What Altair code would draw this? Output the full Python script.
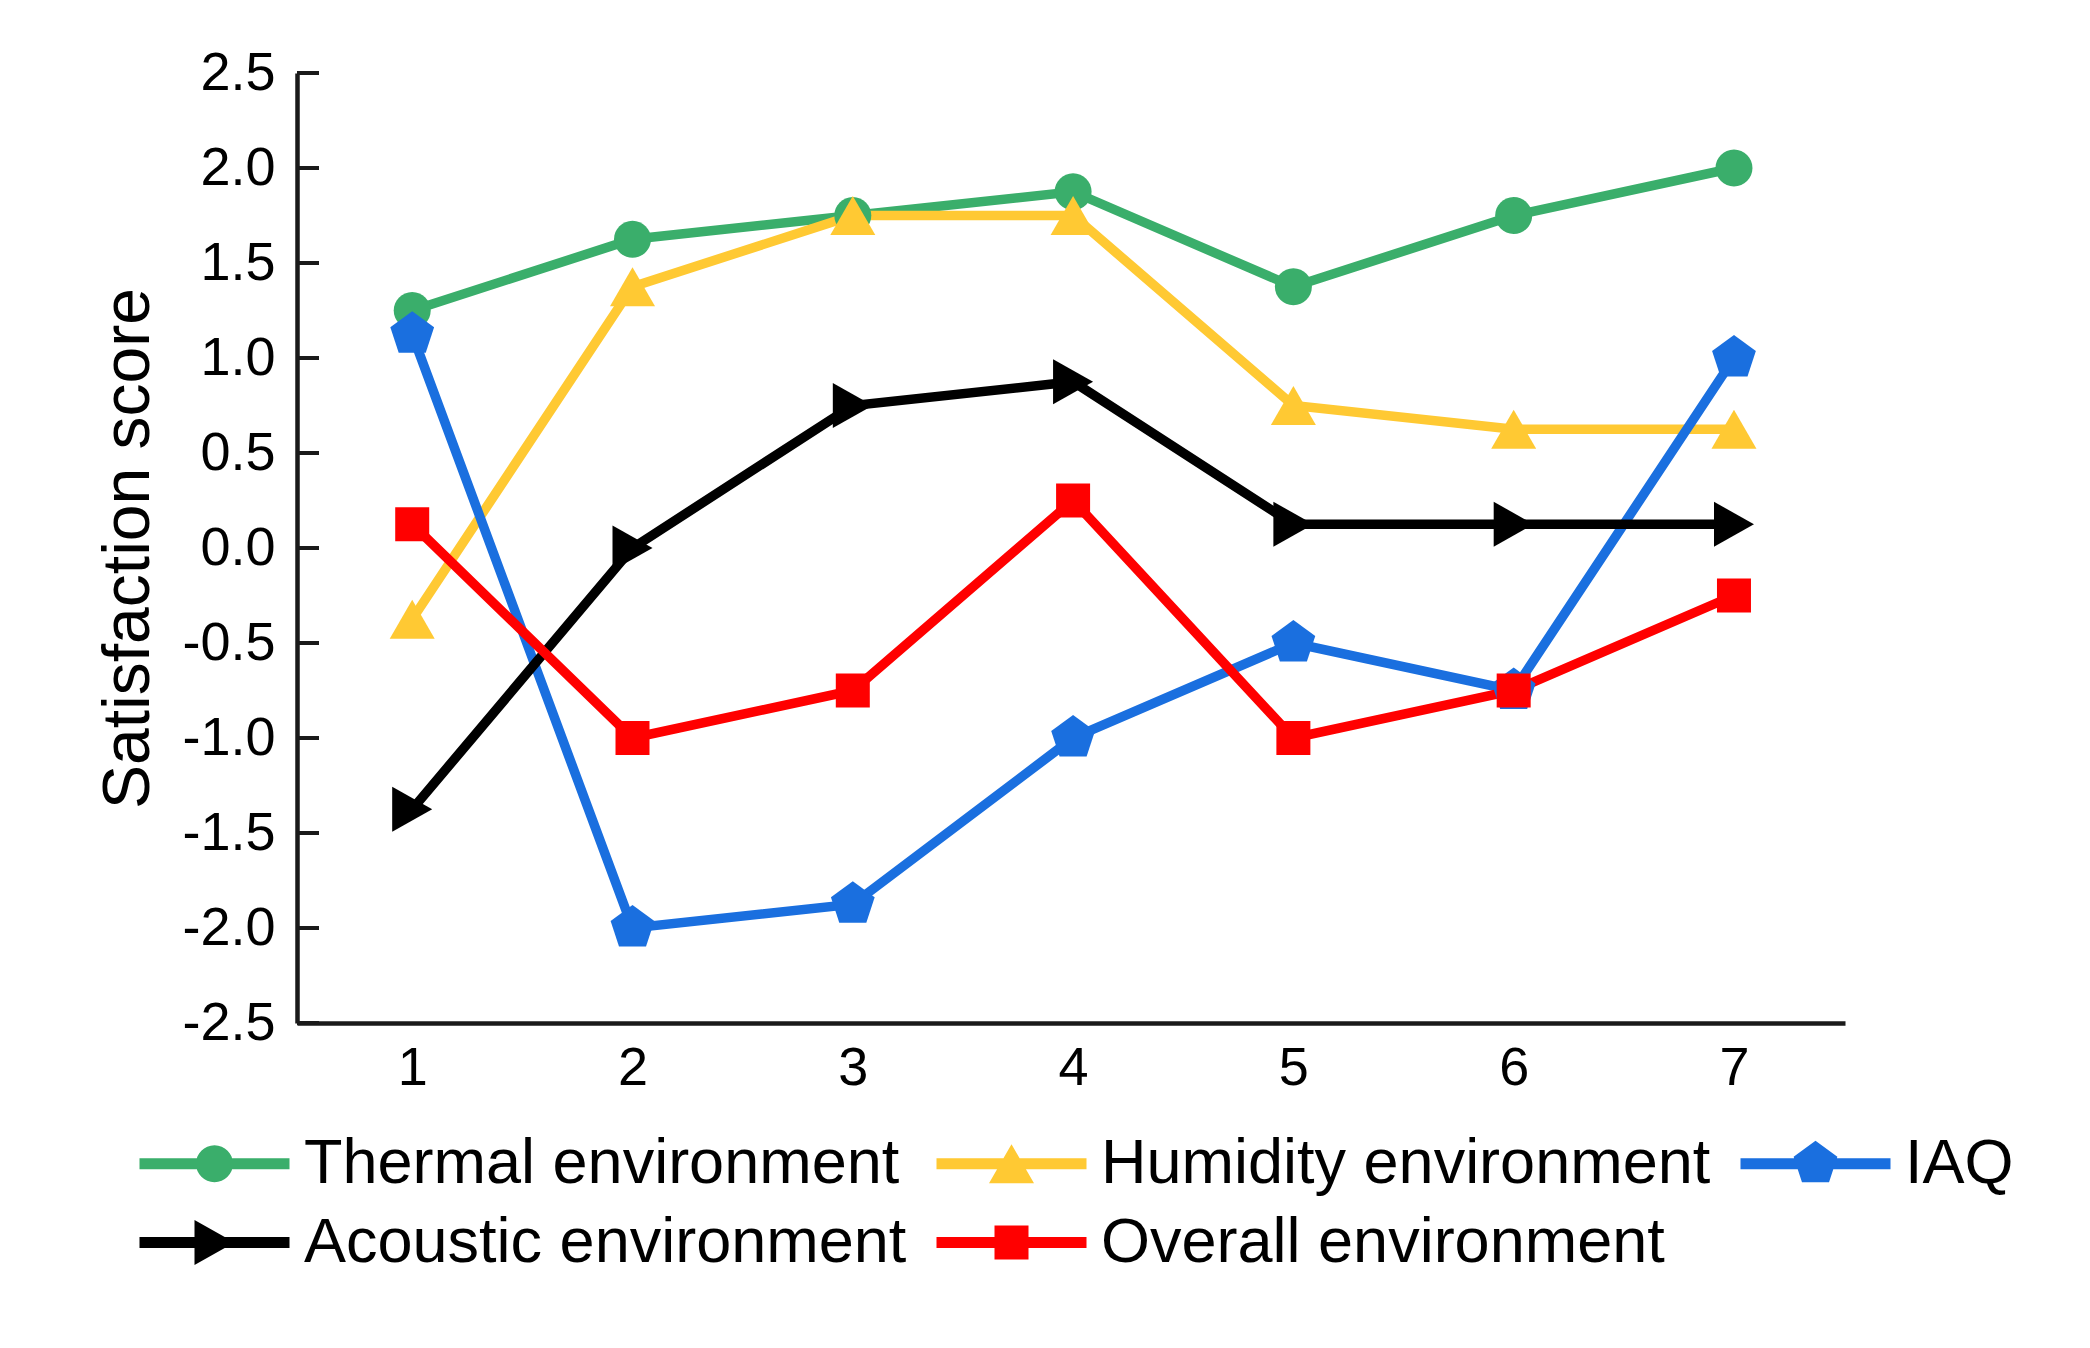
import altair as alt
import pandas as pd

# ---------------- data ----------------
x_values = [1, 2, 3, 4, 5, 6, 7]
series_names = ["Thermal environment", "Humidity environment", "IAQ",
                "Acoustic environment", "Overall environment"]
thermal = [1.25, 1.625, 1.75, 1.875, 1.375, 1.75, 2.0]
humidity = [-0.375, 1.375, 1.75, 1.75, 0.75, 0.625, 0.625]
iaq = [1.125, -2.0, -1.875, -1.0, -0.5, -0.75, 1.0]
acoustic = [-1.375, 0.0, 0.75, 0.875, 0.125, 0.125, 0.125]
overall = [0.125, -1.0, -0.75, 0.25, -1.0, -0.75, -0.25]
y_ticks = [-2.5, -2.0, -1.5, -1.0, -0.5, 0.0, 0.5, 1.0, 1.5, 2.0, 2.5]

colors = ["#3aae6b", "#ffc933", "#1a6fdf", "#000000", "#ff0000"]

# marker shapes (unit = sqrt(size)/2)
m_circle = "M-0.925,0A0.925,0.925,0,1,1,0.925,0A0.925,0.925,0,1,1,-0.925,0Z"
m_tri_up = "M0,-0.975L1.125,0.975L-1.125,0.975Z"
m_pent = "M0,-1.15L1.094,-0.355L0.676,0.93L-0.676,0.93L-1.094,-0.355Z"
m_tri_right = "M-1,-1.125L1,0L-1,1.125Z"
m_square = "M-0.85,-0.85L0.85,-0.85L0.85,0.85L-0.85,0.85Z"
markers = [m_circle, m_tri_up, m_pent, m_tri_right, m_square]
bar = "M-3.75,-0.27L3.75,-0.27L3.75,0.27L-3.75,0.27Z"
legend_markers = [bar + m for m in markers]

series_values = [thermal, humidity, iaq, acoustic, overall]
rows = []
for name, vals in zip(series_names, series_values):
    for xv, v in zip(x_values, vals):
        rows.append({"x": xv, "value": v, "series": name})
df = pd.DataFrame(rows)
ticks_df = pd.DataFrame({"value": y_ticks})

FONT = "Liberation Sans"

x_enc = alt.X("x:Q", scale=alt.Scale(domain=[0.477, 7.504], nice=False, zero=False),
              axis=alt.Axis(values=x_values, format="d", grid=False, ticks=False,
                            labelFont=FONT, labelFontSize=54, labelColor="black",
                            labelPadding=18, domainColor="#1a1a1a", domainWidth=4.5,
                            title=None))
y_enc = alt.Y("value:Q", scale=alt.Scale(domain=[-2.5, 2.5], nice=False, zero=False),
              axis=alt.Axis(values=y_ticks,
                            labelExpr="replace(format(datum.value, '.1f'), '\u2212', '-')",
                            grid=False, ticks=False, tickSize=0,
                            labelFont=FONT, labelFontSize=54, labelColor="black",
                            labelPadding=22, domainColor="#1a1a1a", domainWidth=4.5,
                            title="Satisfaction score", titleFont=FONT,
                            titleFontSize=66, titleFontWeight="normal",
                            titleColor="black", titlePadding=19))

color_scale = alt.Scale(domain=series_names, range=colors)

inner_ticks = alt.Chart(ticks_df).mark_rule(color="#1a1a1a", strokeWidth=4).encode(
    y=y_enc,
    x=alt.value(0), x2=alt.value(22),
)

lines = alt.Chart(df).mark_line(strokeWidth=9.5).encode(
    x=x_enc, y=y_enc,
    color=alt.Color("series:N", scale=color_scale, legend=None),
    order=alt.Order("x:Q"),
)

points = alt.Chart(df).mark_point(filled=True, opacity=1, size=1600, strokeWidth=0).encode(
    x=x_enc, y=y_enc,
    color=alt.Color("series:N", scale=color_scale, legend=None),
    shape=alt.Shape("series:N", scale=alt.Scale(domain=series_names, range=markers), legend=None),
)

leg = alt.Legend(orient="none", direction="horizontal", legendX=-169, legendY=1059,
                 columns=3, title=None,
                 labelFont=FONT, labelFontSize=63, labelColor="black", labelLimit=2000,
                 symbolSize=1600, symbolOffset=55, labelOffset=58,
                 rowPadding=15, columnPadding=18, symbolStrokeWidth=0,
                 symbolOpacity=1, padding=0)

legend_layer = alt.Chart(df).transform_filter("datum.x < 0").mark_point(
    filled=True, size=1600).encode(
    x=x_enc, y=y_enc,
    color=alt.Color("series:N", scale=color_scale, legend=leg),
    shape=alt.Shape("series:N", scale=alt.Scale(domain=series_names, range=legend_markers),
                    legend=leg),
)

chart = alt.layer(inner_ticks, lines, points, legend_layer).resolve_scale(
    color="independent", shape="independent"
).properties(
    width=1548, height=950,
    autosize=alt.AutoSizeParams(type="none"),
    padding={"left": 289, "top": 65, "right": 235, "bottom": 300},
    background="white",
).configure_view(stroke=None)

chart.save("out.html", embed_options={"renderer": "svg", "actions": False})
